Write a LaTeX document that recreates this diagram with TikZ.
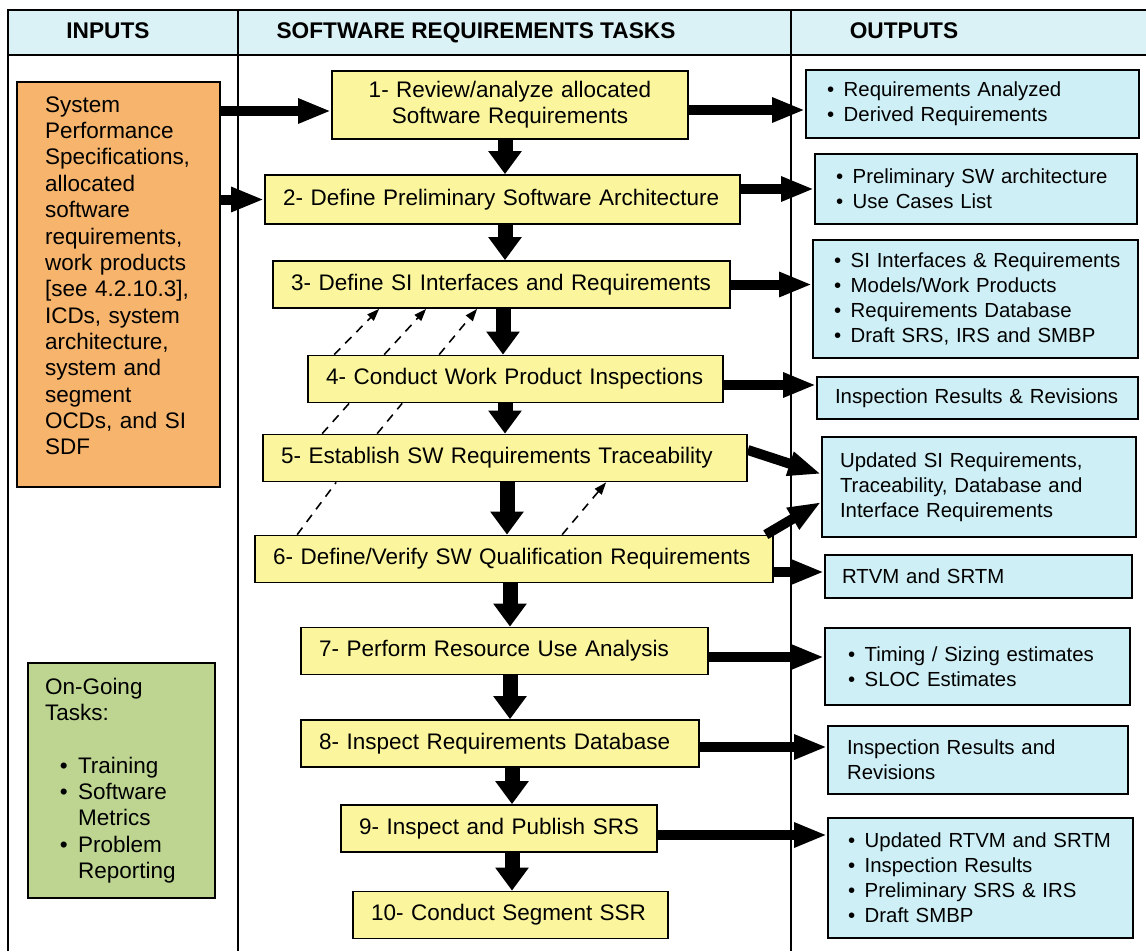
\documentclass[tikz,border=0pt]{standalone}
\usepackage{fontspec}
\setmainfont{Liberation Sans}
\usepackage{tikz}
\usetikzlibrary{arrows.meta,calc}

\definecolor{headcyan}{RGB}{218,241,245}
\definecolor{outcyan}{RGB}{206,239,245}
\definecolor{taskyellow}{RGB}{251,246,158}
\definecolor{inorange}{RGB}{246,180,108}
\definecolor{gogreen}{RGB}{189,213,145}

\newcommand{\itm}[1]{\makebox[9.5pt][l]{\textbullet}\mbox{#1}}

\begin{document}
\begin{tikzpicture}[x=0.02cm,y=-0.02cm,
  harrow/.style={line width=0.2cm,-{Triangle[width=0.46cm,length=0.66cm]}},
  varrow/.style={line width=0.3cm,-{Triangle[width=0.64cm,length=0.46cm]}},
  dline/.style={line width=0.9pt,dash pattern=on 5pt off 4pt},
  darrow/.style={dline,-{Triangle[width=5pt,length=7pt]}}]
\tikzstyle{colhead}=[anchor=base,font=\fontsize{12.9}{15}\selectfont\bfseries]
\tikzstyle{task}=[draw,line width=1pt,fill=taskyellow,inner xsep=0.36cm,align=left,minimum height=0.94cm,font=\fontsize{12.8}{15}\selectfont]
\tikzstyle{outbox}=[draw,line width=1pt,fill=outcyan,inner xsep=0.42cm,align=left,font=\fontsize{11.6}{14.2}\selectfont]
\tikzstyle{sidebox}=[draw,line width=1pt,align=left,font=\fontsize{12.8}{15}\selectfont]

\useasboundingbox (0,0) rectangle (1146,951);

% table frame
\fill[headcyan] (8,10) rectangle (1146,55);
\draw[line width=0.8pt] (1146,10) -- (8,10) -- (8,951);
\draw[line width=0.8pt] (8,55) -- (1146,55);
\draw[line width=0.8pt] (238,10) -- (238,951);
\draw[line width=0.8pt] (791,10) -- (791,951);

\node[colhead] (hin) at (108,38) {INPUTS};
\node[colhead] (htask) at (476,38) {SOFTWARE REQUIREMENTS TASKS};
\node[colhead] (hout) at (904,38) {OUTPUTS};

% inputs
\node[sidebox,fill=inorange,inner xsep=0.56cm,text width=2.94cm,minimum height=8.1cm] (inp) at (118.5,284.5)
  {System\\Performance\\\mbox{Specifications,}\\allocated\\software\\\mbox{requirements,}\\\mbox{work products}\\{\mbox{[see 4.2.10.3],}}\\\mbox{ICDs, system}\\architecture,\\system and\\segment\\\mbox{OCDs, and SI}\\SDF\\[-5pt]\mbox{}};
\node[sidebox,fill=gogreen,inner xsep=0.34cm,text width=3.06cm,minimum height=4.7cm] (ongo) at (121.5,780.5)
  {On-Going\\Tasks:\\[15pt]\hspace*{8.5pt}\makebox[10.3pt][l]{\textbullet}Training\\\hspace*{8.5pt}\makebox[10.3pt][l]{\textbullet}Software\\\hspace*{18.8pt}Metrics\\\hspace*{8.5pt}\makebox[10.3pt][l]{\textbullet}Problem\\\hspace*{18.8pt}Reporting};

% tasks
\node[task,text width=6.4cm,align=center,minimum height=1.36cm] (t1) at (510,105) {1- Review/analyze allocated\\Software Requirements};
\node[task,text width=8.78cm,minimum height=0.98cm] (t2) at (502.5,199.5) {\mbox{2- Define Preliminary Software Architecture}};
\node[task,text width=8.42cm] (t3) at (501.5,284.5) {\mbox{3- Define SI Interfaces and Requirements}};
\node[task,text width=7.58cm] (t4) at (515.5,379) {\mbox{4- Conduct Work Product Inspections}};
\node[task,text width=8.96cm] (t5) at (505,458) {\mbox{5- Establish SW Requirements Traceability}};
\node[task,text width=9.64cm] (t6) at (514,559) {\mbox{6- Define/Verify SW Qualification Requirements}};
\node[task,text width=7.42cm] (t7) at (504.5,651) {\mbox{7- Perform Resource Use Analysis}};
\node[task,text width=7.24cm] (t8) at (500,743.5) {\mbox{8- Inspect Requirements Database}};
\node[task,text width=5.6cm] (t9) at (499,828.5) {\mbox{9- Inspect and Publish SRS}};
\node[task,text width=5.58cm] (t10) at (510.5,915) {\mbox{10- Conduct Segment SSR}};

% outputs
\node[outbox,text width=5.82cm,minimum height=1.36cm] (o1) at (972.5,104) {\itm{Requirements Analyzed}\\\itm{Derived Requirements}};
\node[outbox,text width=5.6cm,minimum height=1.4cm] (o2) at (976,189) {\itm{Preliminary SW architecture}\\\itm{Use Cases List}};
\node[outbox,text width=5.66cm,minimum height=2.36cm] (o3) at (975.5,299) {\itm{SI Interfaces \& Requirements}\\\itm{Models/Work Products}\\\itm{Requirements Database}\\\itm{Draft SRS, IRS and SMBP}};
\node[outbox,inner xsep=0.36cm,text width=5.7cm,minimum height=0.84cm] (o4) at (977.5,398) {\mbox{Inspection Results \& Revisions}};
\node[outbox,inner xsep=0.36cm,text width=5.56cm,minimum height=2cm] (o5) at (979,487) {\mbox{Updated SI Requirements,}\\\mbox{Traceability, Database and}\\\mbox{Interface Requirements}};
\node[outbox,inner xsep=0.34cm,text width=5.46cm,minimum height=0.86cm] (o6) at (978.5,576.5) {RTVM and SRTM};
\node[outbox,inner xsep=0.46cm,text width=5.18cm,minimum height=1.54cm] (o7) at (977.5,666.5) {\itm{Timing / Sizing estimates}\\\itm{SLOC Estimates}};
\node[outbox,inner xsep=0.38cm,text width=5.24cm,minimum height=1.36cm] (o8) at (978,760) {\mbox{Inspection Results and}\\Revisions};
\node[outbox,inner xsep=0.4cm,text width=5.3cm,minimum height=2.4cm] (o9) at (980.5,878) {\itm{Updated RTVM and SRTM}\\\itm{Inspection Results}\\\itm{Preliminary SRS \& IRS}\\\itm{Draft SMBP}};

% inputs to tasks
\draw[harrow] ([yshift=-0.12cm]t1.west -| inp.east) -- ([yshift=-0.12cm]t1.west);
\draw[harrow] (t2.west -| inp.east) -- (t2.west);

% task flow
\draw[varrow] (t1.south -| 505,0) -- (t2.north -| 505,0);
\draw[varrow] (t2.south -| 505,0) -- (t3.north -| 505,0);
\draw[varrow] (t3.south -| 503,0) -- (t4.north -| 503,0);
\draw[varrow] (t4.south -| 505,0) -- (t5.north -| 505,0);
\draw[varrow] (t5.south -| 507,0) -- (t6.north -| 507,0);
\draw[varrow] (t6.south -| 510,0) -- (t7.north -| 510,0);
\draw[varrow] (t7.south -| 510,0) -- (t8.north -| 510,0);
\draw[varrow] (t8.south -| 512,0) -- (t9.north -| 512,0);
\draw[varrow] (t9.south -| 512,0) -- (t10.north -| 512,0);

% tasks to outputs
\draw[harrow] ([yshift=-0.1cm]t1.east) -- ([yshift=-0.1cm]t1.east -| o1.west);
\draw[harrow] (o2.west -| t2.east) -- (o2.west);
\draw[harrow] (t3.east) -- (t3.east -| o3.west);
\draw[harrow] ([yshift=-0.12cm]t4.east) -- ([yshift=-0.12cm]t4.east -| o4.west);
\draw[harrow] ([yshift=0.16cm]t5.east) -- ([yshift=0.26cm]o5.west);
\draw[harrow] ([xshift=-0.16cm]t6.north east) -- ([yshift=-0.3cm]o5.west);
\draw[harrow] ([yshift=-0.26cm]t6.east) -- ([yshift=-0.26cm]t6.east -| o6.west);
\draw[harrow] ([yshift=-0.12cm]t7.east) -- ([yshift=-0.12cm]t7.east -| o7.west);
\draw[harrow] ([yshift=-0.07cm]t8.east) -- ([yshift=-0.07cm]t8.east -| o8.west);
\draw[harrow] ([yshift=-0.13cm]t9.east) -- ([yshift=-0.13cm]t9.east -| o9.west);

% feedback (dashed)
\draw[darrow] ([xshift=0.54cm]t4.north west) -- ([xshift=2.14cm]t3.south west);
\draw[darrow] ([xshift=1.54cm]t4.north west) -- ([xshift=3.08cm]t3.south west);
\draw[darrow] ([xshift=2.64cm]t4.north west) -- ([xshift=4.1cm]t3.south west);
\draw[dline] ([xshift=1.2cm]t5.north west) -- ([xshift=0.84cm]t4.south west);
\draw[dline] ([xshift=2.3cm]t5.north west) -- ([xshift=1.9cm]t4.south west);
\draw[dline] ([xshift=0.86cm]t6.north west) -- ([xshift=1.48cm]t5.south west);
\draw[darrow] ([xshift=6.16cm]t6.north west) -- ([xshift=6.88cm]t5.south west);
\end{tikzpicture}
\end{document}
